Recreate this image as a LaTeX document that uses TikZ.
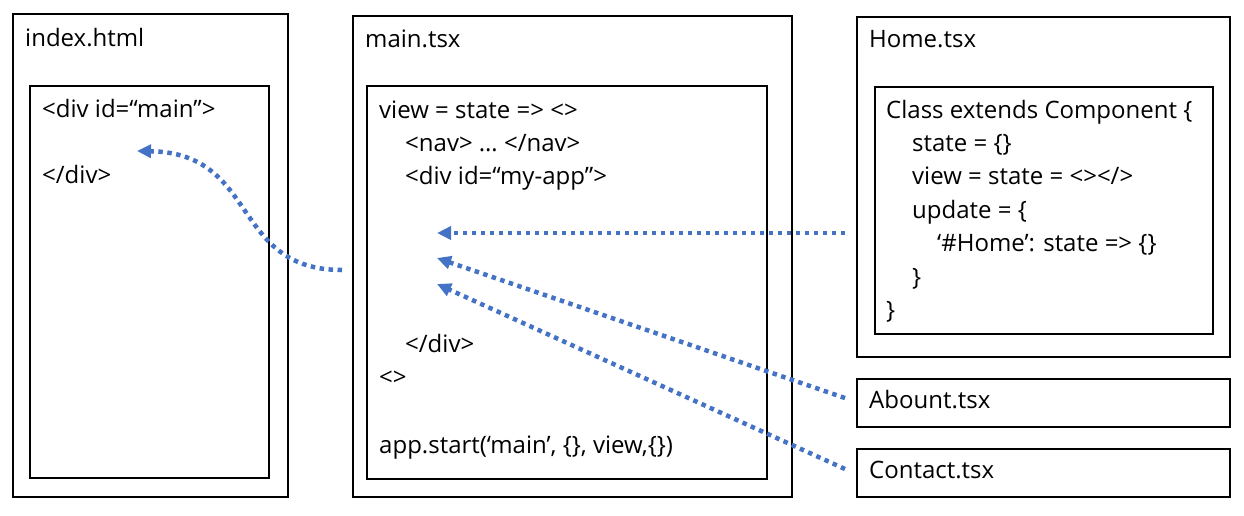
\documentclass[tikz,border=0pt]{standalone}
\usepackage{fontspec}
\setmainfont{Open Sans}
\usetikzlibrary{arrows.meta}
\definecolor{arrowblue}{HTML}{4472C4}
\tikzset{
  box/.style={draw=black, line width=2pt, anchor=north west, inner sep=0pt, outer sep=0pt},
  txt/.style={anchor=base west, inner sep=0pt, font=\fontsize{24}{30}\selectfont},
  link/.style={draw=arrowblue, line width=4.5pt, dash pattern=on 4.5pt off 4.5pt,
     -{Triangle[length=14pt,width=13pt]}},
}
\begin{document}
\begin{tikzpicture}[x=1pt,y=-1pt]
\useasboundingbox (0,0) rectangle (1244,515);
% boxes
\node[box, minimum width=275pt, minimum height=483pt] (idx) at (13,14) {};
\node[box, minimum width=239pt, minimum height=392pt] (idxin) at (30,86) {};
\node[box, minimum width=439pt, minimum height=481pt] (mainb) at (353,16) {};
\node[box, minimum width=400pt, minimum height=393pt] (mainin) at (367,86) {};
\node[box, minimum width=373pt, minimum height=340pt] (home) at (857,17) {};
\node[box, minimum width=338pt, minimum height=247pt] (homein) at (875,87) {};
\node[box, minimum width=373pt, minimum height=48pt] (about) at (857,379) {};
\node[box, minimum width=373pt, minimum height=48pt] (contact) at (857,449) {};
% texts
\node[txt] (t1) at (25,46) {index.html};
\node[txt] (t2) at (42,117) {<div id=“main”>};
\node[txt] (t3) at (42,183) {</div>};
\node[txt] (t4) at (365,47) {main.tsx};
\node[txt] (t5) at (379,118) {view = state => <>};
\node[txt] (t6) at (405,151) {<nav> … </nav>};
\node[txt] (t7) at (405,184) {<div id=“my-app”>};
\node[txt] (t8) at (405,352) {</div>};
\node[txt] (t9) at (379,385) {<>};
\node[txt] (t10) at (379,453) {app.start(‘main’, \{\}, view,\{\})};
\node[txt] (t11) at (869,47) {Home.tsx};
\node[txt] (t12) at (886,118) {Class extends Component \{};
\node[txt] (t13) at (912,151) {state = \{\}};
\node[txt] (t14) at (912,184) {view = state = <></>};
\node[txt] (t15) at (912,218) {update = \{};
\node[txt] (t16) at (937,251) {‘\#Home’: state => \{\}};
\node[txt] (t17) at (912,285) {\}};
\node[txt] (t18) at (886,318) {\}};
\node[txt] (t19) at (869,408) {Abount.tsx};
\node[txt] (t20) at (869,478) {Contact.tsx};
% connector end points
\coordinate (mstart) at (342,270);
\coordinate (mtip) at (137,151);
\coordinate (hstart) at (845,233);
\coordinate (htip) at (437,233);
\coordinate (astart) at (845,398);
\coordinate (atip) at (437,258);
\coordinate (cstart) at (845,469);
\coordinate (ctip) at (437,284);
% connectors
\draw[link] (mstart) .. controls (230,270) and (260,153) .. (mtip);
\draw[link] (hstart) -- (htip);
\draw[link] (astart) -- (atip);
\draw[link] (cstart) -- (ctip);
\end{tikzpicture}
\end{document}
